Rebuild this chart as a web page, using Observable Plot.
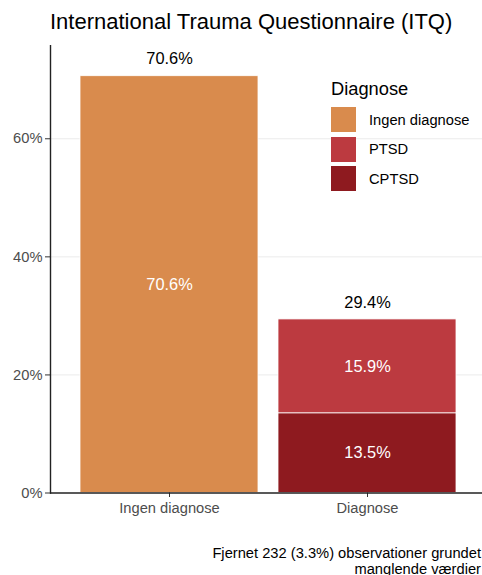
<!DOCTYPE html>
<html>
<head>
<meta charset="utf-8">
<script src="https://cdn.jsdelivr.net/npm/d3@7"></script>
<script src="https://cdn.jsdelivr.net/npm/@observablehq/plot@0.6"></script>
<style>
  html, body { margin: 0; padding: 0; background: #fff; }
  #wrap { position: relative; width: 482px; height: 575px; overflow: hidden; font-family: "Liberation Sans", Arial, sans-serif; }
  #title { position: absolute; left: 50px; top: 9px; font-size: 22px; color: #000; white-space: nowrap; }
  #chart { position: absolute; left: 0; top: 45px; width: 487px; }
  #chart svg { max-width: none !important; }
  #legend { position: absolute; left: 331px; top: 78px; }
  #legend .lt { font-size: 18.3px; color: #000; height: 27px; line-height: 22px; }
  #legend .row { display: flex; align-items: center; height: 29.5px; }
  #legend .key { width: 25px; height: 25px; margin-right: 13px; }
  #legend .lab { font-size: 14.7px; color: #000; }
  #caption { position: absolute; left: 0; width: 481px; top: 546px; text-align: right; font-size: 14.7px; line-height: 15.5px; color: #000; white-space: nowrap; }
</style>
</head>
<body>
<div id="wrap">
  <div id="title"></div>
  <div id="chart"></div>
  <div id="legend"></div>
  <div id="caption"></div>
</div>
<script>
const titleText = "International Trauma Questionnaire (ITQ)";
const captionLines = ["Fjernet 232 (3.3%) observationer grundet", "manglende værdier"];
const legendTitle = "Diagnose";

const categories = ["Ingen diagnose", "Diagnose"];
const groups = ["Ingen diagnose", "PTSD", "CPTSD"];
const colors = ["#D98B4D", "#BC3A40", "#8E1A1F"];
// stacked from bottom to top in this order
const barCategory = ["Ingen diagnose", "Diagnose", "Diagnose"];
const barGroup = ["Ingen diagnose", "CPTSD", "PTSD"];
const barValue = [70.6, 13.5, 15.9];
const totals = [70.6, 29.4];
const yTicks = [0, 20, 40, 60];

const bars = barValue.map((v, i) => ({cat: barCategory[i], group: barGroup[i], value: v}));
const tot = categories.map((c, i) => ({cat: c, total: totals[i]}));
const fmt = v => v.toFixed(1) + "%";

document.getElementById("title").textContent = titleText;
document.getElementById("caption").innerHTML = captionLines.join("<br>");

const lg = document.getElementById("legend");
const lt = document.createElement("div"); lt.className = "lt"; lt.textContent = legendTitle; lg.appendChild(lt);
groups.forEach((g, i) => {
  const r = document.createElement("div"); r.className = "row";
  const k = document.createElement("div"); k.className = "key"; k.style.background = colors[i];
  const l = document.createElement("div"); l.className = "lab"; l.textContent = g;
  r.appendChild(k); r.appendChild(l); lg.appendChild(r);
});

const plot = Plot.plot({
  width: 487,
  height: 485,
  marginLeft: 50,
  marginRight: 0,
  marginTop: 0,
  marginBottom: 37.5,
  style: {fontFamily: "'Liberation Sans', Arial, sans-serif", background: "transparent", maxWidth: "none"},
  x: {domain: categories, paddingInner: 0.1, paddingOuter: 0.15, label: null},
  y: {domain: [0, 75.8], label: null},
  color: {domain: groups, range: colors},
  marks: [
    Plot.gridY(yTicks.filter(d => d > 0), {stroke: "#EBEBEB", strokeOpacity: 1, strokeWidth: 1}),
    Plot.barY(bars, {x: "cat", y: "value", fill: "group", stroke: "white", strokeWidth: 0.8, inset: 0}),
    Plot.text(bars, Plot.stackY({x: "cat", y: "value", text: d => fmt(d.value), fill: "white", fontSize: 16.4})),
    Plot.text(tot, {x: "cat", y: "total", text: d => fmt(d.total), dy: -17, fill: "black", fontSize: 16.4}),
    Plot.axisY({ticks: yTicks, tickFormat: d => d + "%", tickSize: 5, tickPadding: 3, fontSize: 14.7, color: "#4D4D4D", stroke: "#333", label: null}),
    Plot.axisX({tickSize: 4.5, tickPadding: 5, fontSize: 14.7, color: "#4D4D4D", stroke: "#333", label: null}),
    Plot.ruleY([0], {stroke: "#222", strokeWidth: 1.4}),
    Plot.frame({anchor: "left", stroke: "#222", strokeWidth: 1.4})
  ]
});
document.getElementById("chart").appendChild(plot);
</script>
</body>
</html>
